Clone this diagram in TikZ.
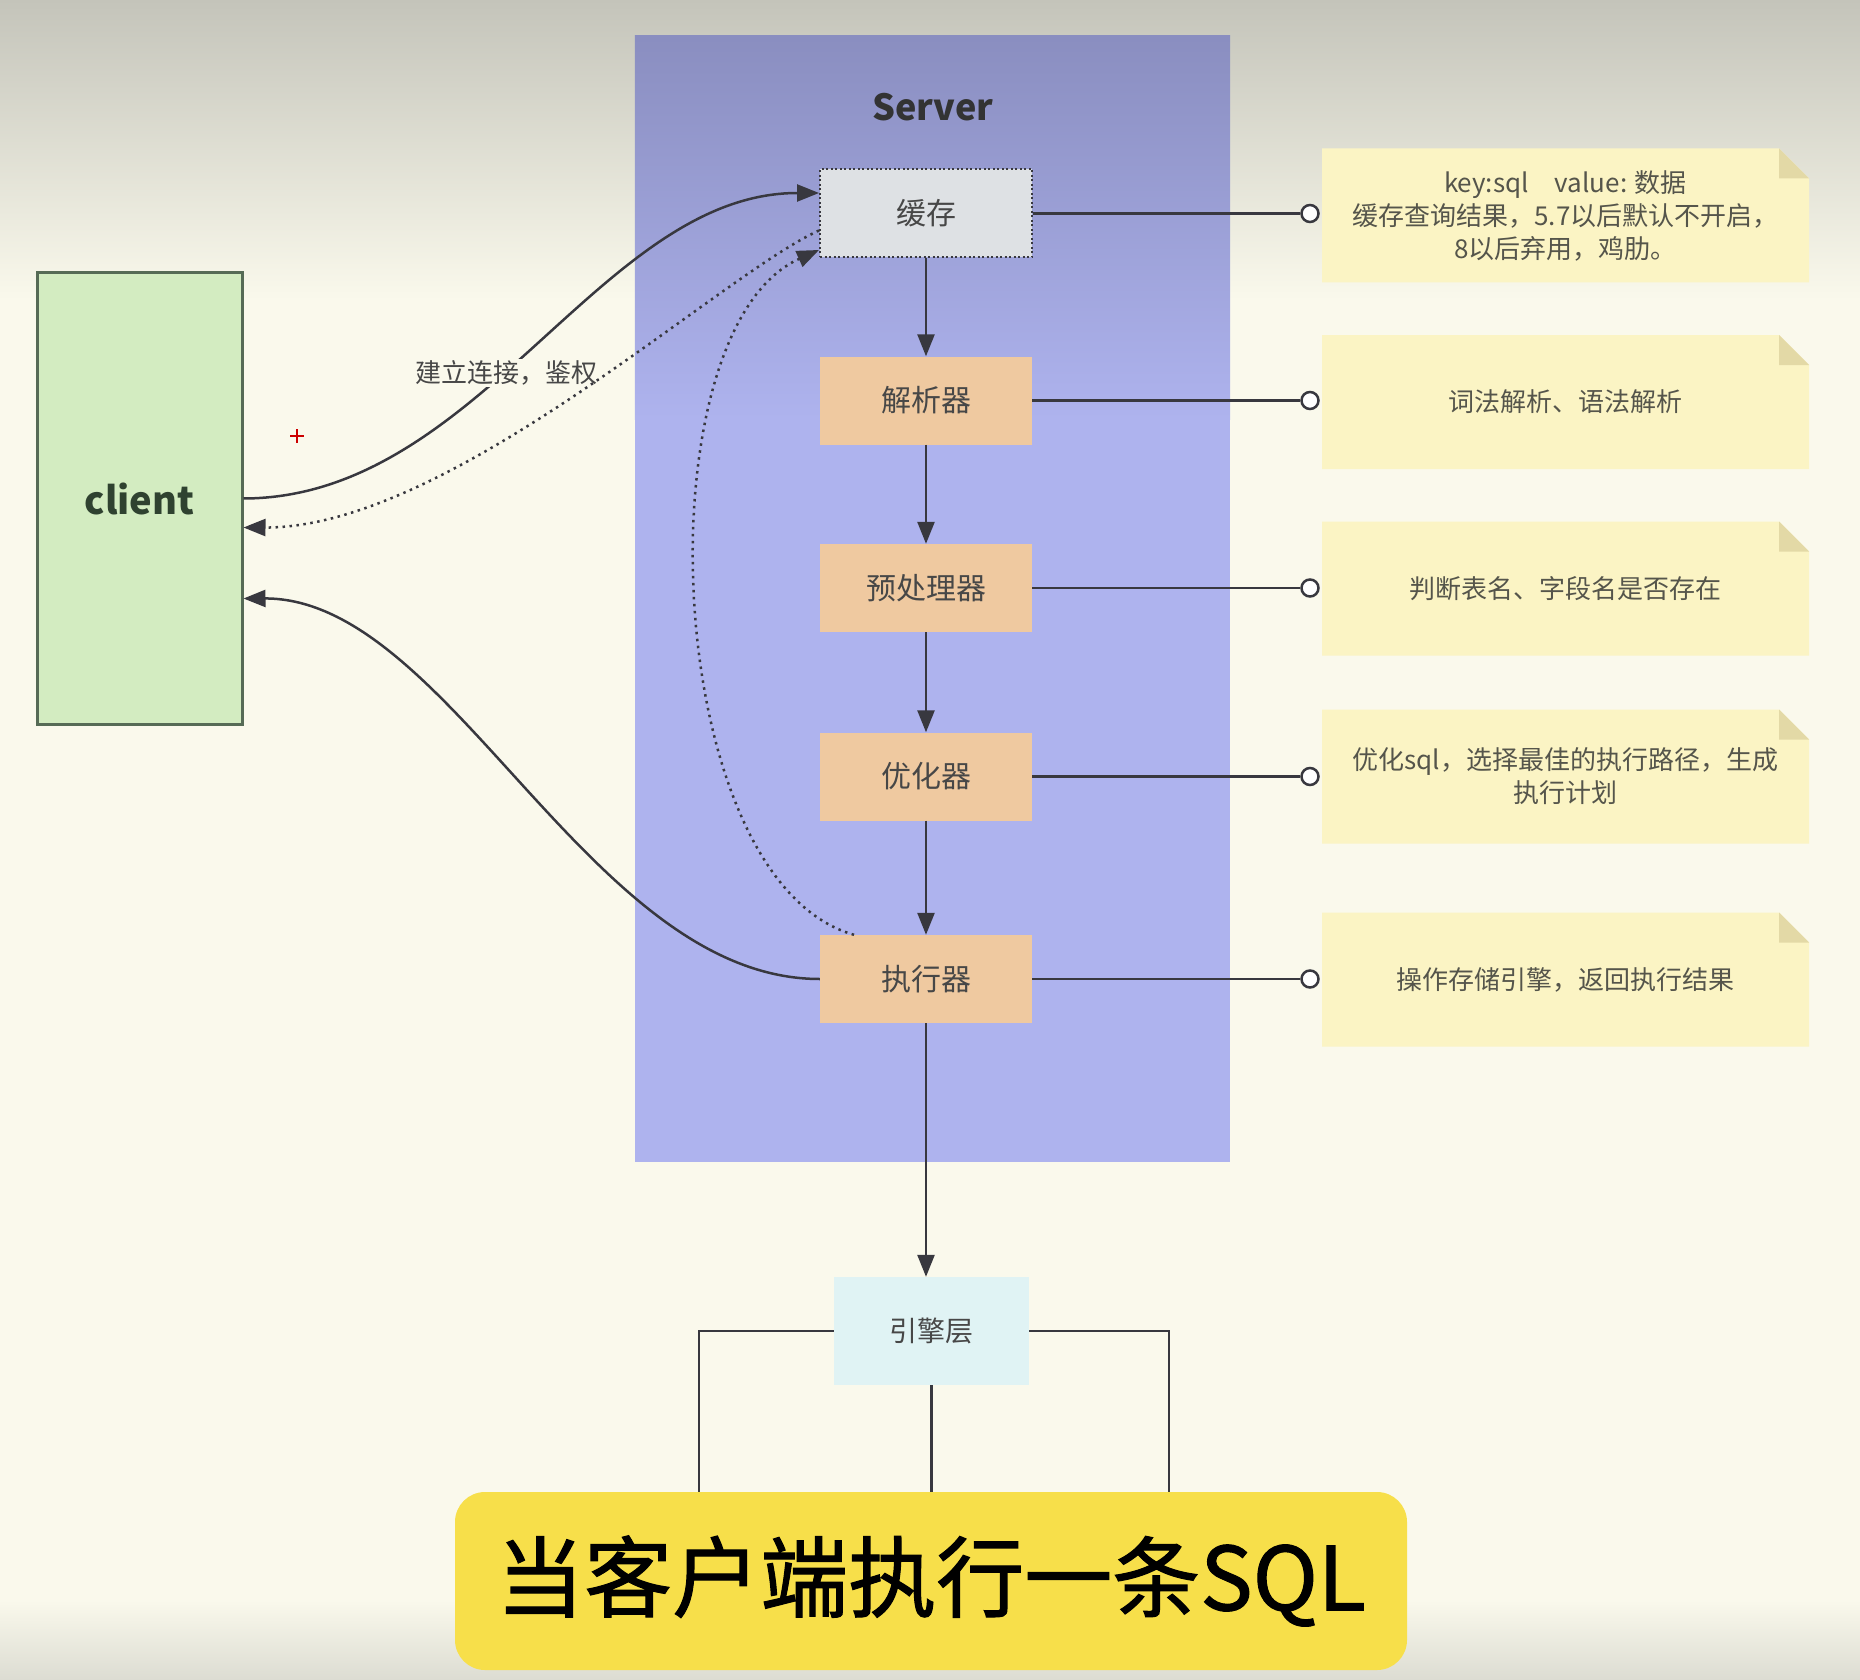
\documentclass[tikz,border=0pt]{standalone}
\usepackage{fontspec}
\setmainfont{Noto Sans CJK SC}
\newfontfamily\bannerfont[FakeBold=1.2]{Noto Sans CJK SC}
\usetikzlibrary{arrows.meta,calc}
\definecolor{bgcream}{HTML}{FAF9EC}
\definecolor{bgtop}{HTML}{C4C4BA}
\definecolor{bgbot}{HTML}{DCDCD2}
\definecolor{srv}{HTML}{AEB3EE}
\definecolor{srvtop}{HTML}{8A8EC0}
\definecolor{cachefill}{HTML}{DEE1E4}
\definecolor{peach}{HTML}{EFC9A0}
\definecolor{enginefill}{HTML}{E0F3F4}
\definecolor{clientfill}{HTML}{D3ECC1}
\definecolor{clientdraw}{HTML}{566B56}
\definecolor{clienttext}{HTML}{2F4230}
\definecolor{notefill}{HTML}{FBF4C4}
\definecolor{notefold}{HTML}{E3D9A6}
\definecolor{bannerfill}{HTML}{F7DF4A}
\definecolor{linecol}{HTML}{38383F}
\definecolor{boxtext}{HTML}{474747}
\definecolor{notetext}{HTML}{55554B}
\tikzset{
  procbox/.style={fill=peach, minimum width=212pt, minimum height=88pt, inner sep=0pt,
    text=boxtext, font=\fontsize{30}{34}\selectfont},
  conn/.style={draw=linecol, line width=2.5pt},
  arr/.style={conn, -{Triangle[length=22pt,width=17pt]}},
  dotline/.style={conn, line width=2.5pt, dash pattern=on 2.5pt off 4.5pt},
  pin/.style={circle, draw=linecol, line width=2.5pt, fill=white, minimum size=17pt, inner sep=0pt},
  notetxt/.style={text=notetext, font=\fontsize{26}{33}\selectfont, align=center},
}
\newcommand\notecard[1]{%
  \fill[notefill] (1322,{#1-67}) -- (1779,{#1-67}) -- (1809,{#1-37}) -- (1809,{#1+67}) -- (1322,{#1+67}) -- cycle;
  \fill[notefold] (1779,{#1-67}) -- (1779,{#1-37}) -- (1809,{#1-37}) -- cycle;
}
\begin{document}
\begin{tikzpicture}[x=1pt,y=-1pt]
\useasboundingbox (0,0) rectangle (1860,1680);
% background
\fill[bgcream] (0,0) rectangle (1860,1680);
\shade[top color=bgtop, bottom color=bgcream] (0,0) rectangle (1860,300);
\shade[top color=bgcream, bottom color=bgbot] (0,1600) rectangle (1860,1680);

% server container
\node[fill=srv, minimum width=595pt, minimum height=1126pt, inner sep=0pt] (server) at (932.5,599) {};
\shade[top color=srvtop, bottom color=srv] (server.north west) rectangle ([yshift=-384pt]server.north east);
\node[text=black!80, font=\fontsize{36}{40}\selectfont\bfseries] (srvtitle) at (933,107) {Server};

% client
\node[fill=clientfill, draw=clientdraw, line width=3pt, minimum width=205pt, minimum height=451pt,
      inner sep=0pt, text=clienttext, font=\fontsize{38}{42}\selectfont\bfseries] (client) at (139.5,498.5) {client};

% notes
\notecard{215.5}
\notecard{402}
\notecard{588.5}
\notecard{776.5}
\notecard{979.5}
\node[notetxt] (n1) at (1565.5,215.5) {key:sql\quad value: 数据\\缓存查询结果，5.7以后默认不开启，\\8以后弃用，鸡肋。};
\node[notetxt] (n2) at (1565.5,402) {词法解析、语法解析};
\node[notetxt] (n3) at (1565.5,588.5) {判断表名、字段名是否存在};
\node[notetxt] (n4) at (1565.5,776.5) {优化sql，选择最佳的执行路径，生成\\执行计划};
\node[notetxt] (n5) at (1565.5,979.5) {操作存储引擎，返回执行结果};

% process boxes
\node[procbox, fill=cachefill, draw=linecol, line width=2pt, dash pattern=on 2pt off 2.5pt] (cache) at (926,213.5) {缓存};
\node[procbox] (parse) at (926,400.5) {解析器};
\node[procbox] (pre) at (926,588) {预处理器};
\node[procbox] (opt) at (926,776.5) {优化器};
\node[procbox] (exec) at (926,979) {执行器};

% engine
\node[fill=enginefill, minimum width=195pt, minimum height=108pt, inner sep=0pt,
      text=boxtext, font=\fontsize{28}{32}\selectfont] (engine) at (931.5,1331) {引擎层};

% banner
\node[fill=bannerfill, rounded corners=30pt, minimum width=952pt, minimum height=178pt, inner sep=0pt,
      font=\bannerfont\fontsize{88}{92}\selectfont] (banner) at (931,1581) {当客户端执行一条SQL};

% pins
\node[pin] (c1) at (1310,213.5) {};
\node[pin] (c2) at (1310,400.5) {};
\node[pin] (c3) at (1310,588) {};
\node[pin] (c4) at (1310,776.5) {};
\node[pin] (c5) at (1310,979) {};
\draw[conn] (cache.east) -- (c1.west);
\draw[conn] (parse.east) -- (c2.west);
\draw[conn] (pre.east) -- (c3.west);
\draw[conn] (opt.east) -- (c4.west);
\draw[conn] (exec.east) -- (c5.west);

% vertical flow
\draw[arr] (cache.south) -- (parse.north);
\draw[arr] (parse.south) -- (pre.north);
\draw[arr] (pre.south) -- (opt.north);
\draw[arr] (opt.south) -- (exec.north);
\draw[arr] (exec.south) -- (exec.south |- engine.north);

% engine to banner
\draw[conn] (engine.west) -| ([xshift=-232pt]banner.north);
\draw[conn] (engine.east) -| ([xshift=238pt]banner.north);
\draw[conn] (engine.south) -- (engine.south |- banner.north);

% curves
\draw[arr] (client.east) .. controls (480,498) and (600,193) .. ([yshift=20.5pt]cache.west)
  node[pos=0.44, fill=bgcream, inner sep=2pt, text=boxtext, font=\fontsize{26}{30}\selectfont] (lbl) {建立连接，鉴权};
\draw[dotline, -{Triangle[length=22pt,width=17pt]}] ([yshift=-17pt]cache.west) .. controls (720,275) and (450,528) .. ([yshift=-29pt]client.east);
\draw[dotline, -{Triangle[length=22pt,width=17pt]}] ([xshift=-72pt]exec.north) .. controls (660,880) and (640,330) .. ([yshift=-36.5pt]cache.west);
\draw[arr] (exec.west) .. controls (590,979) and (450,598) .. ([yshift=-100pt]client.east);

% cursor mark
\draw[red!80!black, line width=2pt] (290,436) -- (304,436) (297,429) -- (297,443);
\end{tikzpicture}
\end{document}
